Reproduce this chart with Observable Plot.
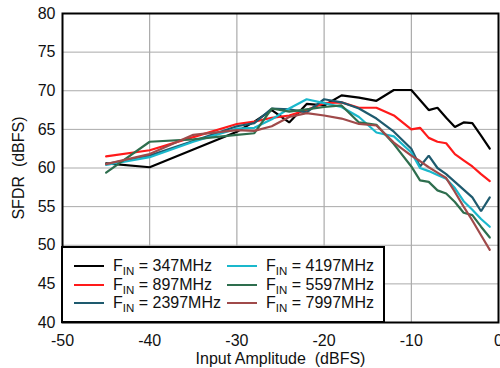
<!DOCTYPE html>
<html>
<head>
<meta charset="utf-8">
<script src="https://cdn.jsdelivr.net/npm/d3@7"></script>
<script src="https://cdn.jsdelivr.net/npm/@observablehq/plot@0.6"></script>
<style>
  html, body { margin: 0; padding: 0; background: #fff; }
  #wrap { position: relative; width: 500px; height: 368px; font-family: "Liberation Sans", Arial, sans-serif; }
  #legend { position: absolute; left: 61px; top: 246px; width: 324px; height: 77px; box-sizing: border-box;
            border: 2px solid #000; background: #fff; }
  .entry { position: absolute; height: 18px; display: flex; align-items: center; font-size: 16px; color: #111; white-space: nowrap; }
  .sw { width: 30px; height: 0; border-top: 2.5px solid; margin-right: 9px; }
  .entry sub { font-size: 11.5px; vertical-align: -4px; line-height: 0; }
</style>
</head>
<body>
<div id="wrap"></div>
<script>
// Data
const amplitude = [-45,-40,-35,-30,-28,-26,-24,-22,-20,-18,-16,-14,-12,-10,-9,-8,-7,-6,-5,-4,-3,-2,-1];
const sfdr347  = [60.6,60.1,62.4,64.7,66.0,67.5,65.9,68.3,68.1,69.4,69.1,68.7,70.1,70.1,68.8,67.5,67.8,66.5,65.3,65.9,65.8,64.2,62.5];
const sfdr897  = [61.5,62.3,64.0,65.7,66.0,66.5,66.8,67.5,68.4,68.5,67.8,67.8,66.8,65.0,65.2,63.9,63.4,63.2,61.8,61.0,60.2,59.2,58.3];
const sfdr2397 = [60.5,61.6,63.5,65.4,65.8,67.7,67.6,67.2,68.9,68.5,67.7,66.4,64.7,62.5,60.2,61.6,60.0,59.2,58.2,57.2,56.2,54.4,56.2];
const sfdr4197 = [60.4,61.4,63.4,65.1,65.2,66.3,67.7,68.9,68.4,67.9,66.6,64.6,64.1,62.0,60.0,59.6,59.1,58.6,57.4,55.7,54.6,53.4,52.4];
const sfdr5597 = [59.4,63.4,63.7,64.3,64.5,67.7,67.3,67.6,67.9,68.1,65.9,65.6,63.1,60.2,58.4,58.2,57.1,56.7,55.6,54.2,53.9,52.4,51.0];
const sfdr7997 = [60.5,61.8,64.3,64.9,64.8,65.4,66.6,67.1,66.8,66.4,65.7,65.5,63.3,61.6,60.9,60.1,59.4,58.7,56.9,55.0,53.2,51.3,49.4];
const seriesNames  = ["347MHz","897MHz","2397MHz","4197MHz","5597MHz","7997MHz"];
const seriesValues = [sfdr347, sfdr897, sfdr2397, sfdr4197, sfdr5597, sfdr7997];
const seriesColors = ["#000000","#ff1a1a","#1e5a6e","#1ab8cc","#2e6e4e","#a04a4a"];
const xTicks = [-50,-40,-30,-20,-10,0];
const yTicks = [40,45,50,55,60,65,70,75,80];

const rows = [];
seriesNames.forEach((name, i) => {
  amplitude.forEach((a, j) => rows.push({series: name, x: a, y: seriesValues[i][j]}));
});

const chart = Plot.plot({
  width: 500,
  height: 368,
  marginLeft: 62,
  marginRight: 2,
  marginTop: 13,
  marginBottom: 46,
  style: {fontFamily: "'Liberation Sans', Arial, sans-serif", fontSize: "16px", color: "#111", background: "#fff", overflow: "visible"},
  x: {domain: [-50, 0]},
  y: {domain: [40, 80]},
  color: {domain: seriesNames, range: seriesColors},
  marks: [
    Plot.gridX(xTicks, {stroke: "#999", strokeOpacity: 1, strokeWidth: 1}),
    Plot.gridY(yTicks, {stroke: "#aaa", strokeOpacity: 1, strokeWidth: 1}),
    Plot.axisX(xTicks, {tickSize: 0, tickPadding: 12, fontSize: 16, label: "Input Amplitude\u00a0 (dBFS)", labelAnchor: "center", labelArrow: "none", labelOffset: 41, tickFormat: d => d === 0 ? "0" : String(d)}),
    Plot.axisY(yTicks, {tickSize: 0, tickPadding: 7, fontSize: 16, label: "SFDR\u00a0 (dBFS)", labelAnchor: "center", labelArrow: "none", labelOffset: 50}),
    Plot.line(rows, {x: "x", y: "y", z: "series", stroke: "series", strokeWidth: 2.2, strokeLinejoin: "miter"}),
    Plot.frame({stroke: "#000", strokeWidth: 2})
  ]
});
document.getElementById("wrap").appendChild(chart);

// Legend (inside plot area, bottom-left)
const legend = document.createElement("div");
legend.id = "legend";
const colLeft = [11, 164];
const rowTop = [9, 27.5, 46];
seriesNames.forEach((name, i) => {
  const e = document.createElement("div");
  e.className = "entry";
  const col = Math.floor(i / 3), row = i % 3;
  e.style.left = colLeft[col] + "px";
  e.style.top = rowTop[row] + "px";
  const sw = document.createElement("span");
  sw.className = "sw";
  sw.style.borderTopColor = seriesColors[i];
  e.appendChild(sw);
  const t = document.createElement("span");
  t.innerHTML = "F<sub>IN</sub> = " + name;
  e.appendChild(t);
  legend.appendChild(e);
});
document.getElementById("wrap").appendChild(legend);
</script>
</body>
</html>
